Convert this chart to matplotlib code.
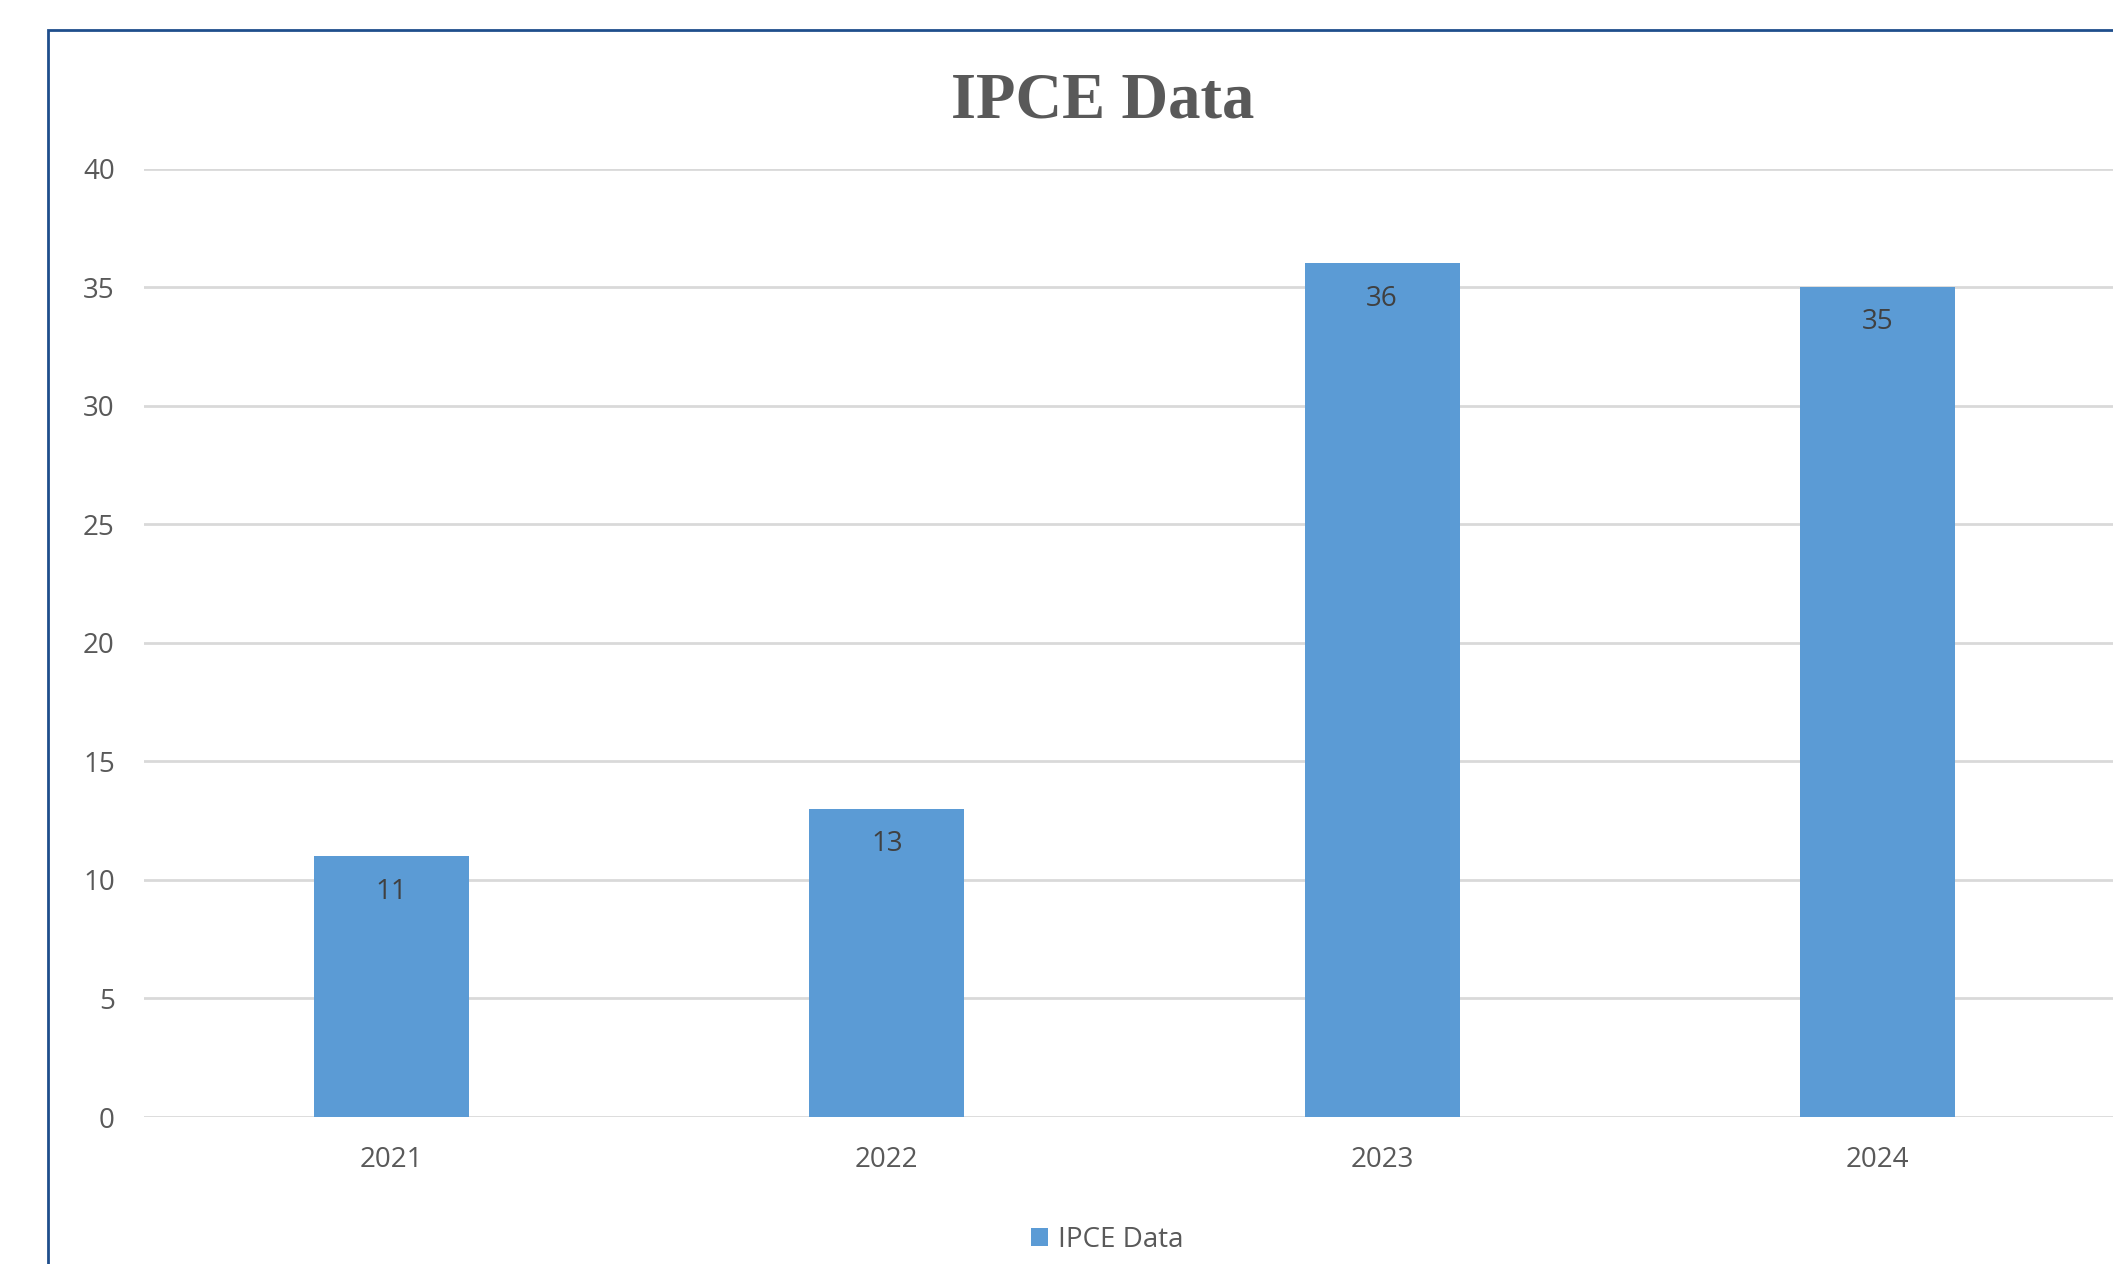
import matplotlib
matplotlib.use("Agg")
import matplotlib.pyplot as plt
from matplotlib.patches import Rectangle, Patch

categories = ["2021", "2022", "2023", "2024"]
values = [11, 13, 36, 35]
series_name = "IPCE Data"
title = "IPCE Data"
yticks = [0, 5, 10, 15, 20, 25, 30, 35, 40]

W, H = 2113, 1264
fig = plt.figure(figsize=(W / 100, H / 100), dpi=100)
fig.patch.set_facecolor("white")

left_px, right_px = 144, 2125
bottom_px, top_px = 1117, 168.5
ax = fig.add_axes([left_px / W, (H - bottom_px) / H,
                   (right_px - left_px) / W, (bottom_px - top_px) / H])

bar_color = "#5B9BD5"
x = list(range(len(categories)))
bars = ax.bar(x, values, width=0.313, color=bar_color, zorder=3)
ax.set_xlim(-0.5, len(categories) - 0.5)
ax.set_ylim(0, 40)
ax.set_yticks(yticks)
ax.set_xticks(x)
ax.set_xticklabels(categories)

tick_font = "Open Sans"
fs = 20
for lab in ax.get_yticklabels() + ax.get_xticklabels():
    lab.set_fontfamily(tick_font)
    lab.set_fontsize(fs)
    lab.set_color("#595959")

ax.tick_params(axis="y", length=0, pad=21)
ax.tick_params(axis="x", length=0, pad=21)
for s in ax.spines.values():
    s.set_visible(False)
ax.yaxis.grid(True, color="#D9D9D9", linewidth=2.0, zorder=0)
ax.set_axisbelow(True)

for xi, v in zip(x, values):
    ax.annotate(str(v), xy=(xi, v), xytext=(0, -25.5), textcoords="offset points",
                ha="center", va="center", fontsize=fs, family=tick_font,
                color="#404040", zorder=4)

# title
fig.text(1102.5 / W, (H - 117) / H, title, ha="center", va="baseline",
         fontsize=46.5, fontweight="bold", family="Liberation Serif", color="#595959")

# legend
fig.legend(handles=[Patch(facecolor=bar_color, edgecolor="none", label=series_name)],
           loc="center", bbox_to_anchor=(1107 / W, (H - 1240) / H),
           frameon=False, prop={"family": tick_font, "size": 20},
           labelcolor="#595959", handlelength=0.62, handleheight=0.62,
           handletextpad=0.35, borderpad=0, borderaxespad=0)

# chart border
fig.patches.append(Rectangle((48 / W, -0.1), 1.2, (H - 29.6) / H + 0.1,
                             transform=fig.transFigure, fill=False,
                             edgecolor="#1F4E8C", linewidth=2.0))

fig.savefig("out.png", dpi=100, facecolor="white")
